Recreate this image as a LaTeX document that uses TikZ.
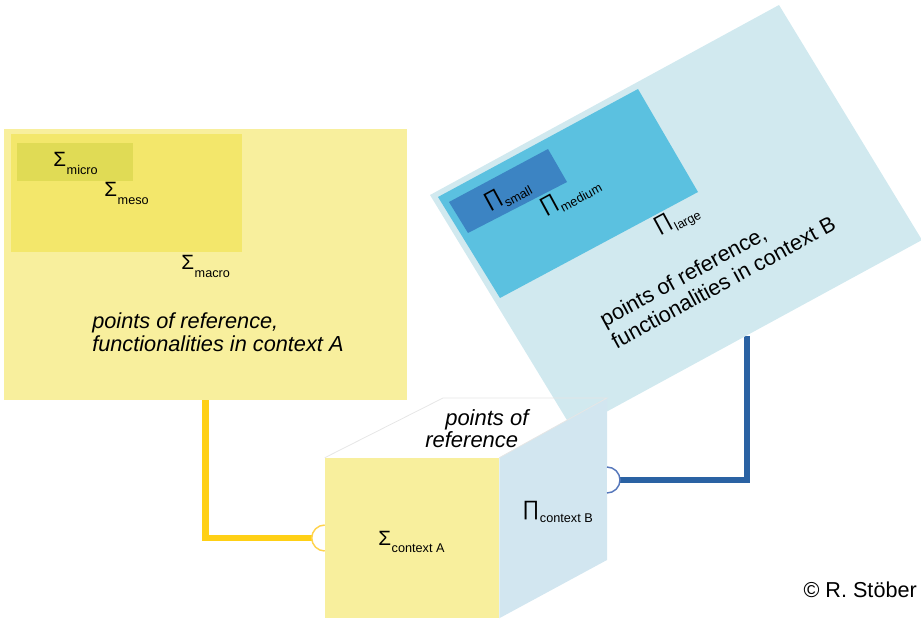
\documentclass[tikz,border=0pt]{standalone}
\usepackage{fontspec}
\setmainfont{Liberation Sans}
\usetikzlibrary{fit}
\definecolor{yelA}{HTML}{F8EF9D}
\definecolor{yelMeso}{HTML}{F3E76B}
\definecolor{yelMicro}{HTML}{E0DB55}
\definecolor{blueBig}{HTML}{D1E9EF}
\definecolor{blueMed}{HTML}{5BC1E0}
\definecolor{blueSmall}{HTML}{3C84C3}
\definecolor{cubeR}{HTML}{D2E6F0}
\definecolor{yconn}{HTML}{FFD015}
\definecolor{bconn}{HTML}{2A62A3}
\definecolor{ysock}{HTML}{FFD34D}
\definecolor{bsock}{HTML}{5577BB}
\definecolor{edgegray}{HTML}{E6E6E6}
\newcommand\gsub[3][6pt]{#2\kern0.5pt\raisebox{-#1}{\fontsize{9.5}{11}\selectfont #3}}
\begin{document}
\begin{tikzpicture}[x=0.75pt,y=-0.75pt,
  lbl/.style={inner sep=0, anchor=base west, font=\fontsize{15.5}{18}\selectfont},
  bigtext/.style={inner sep=0, anchor=base west},
  boxfit/.style={inner sep=0, draw=none},
  yline/.style={draw=yconn, line width=5.2pt},
  bline/.style={draw=bconn, line width=5.2pt},
  socket/.style={fill=white, line width=1.1pt}]
\useasboundingbox (0,0) rectangle (921,620);

% ---- connector end points
\coordinate (bstart) at (747,336);
\coordinate (sockA) at (312,538);
\coordinate (sockB) at (620,480);

% ---- context A
\node[boxfit, fill=yelA, fit={(4,129) (407,400)}] (boxA) {};
\node[boxfit, fill=yelMeso, fit={(11,134) (242,252)}] (meso) {};
\node[boxfit, fill=yelMicro, fit={(17,143) (133,181)}] (micro) {};
\node[lbl] (smicro) at (53,167) {\gsub{Σ}{micro}};
\node[lbl] (smeso) at (104,197) {\gsub{Σ}{meso}};
\node[lbl] (smacro) at (181,270) {\gsub{Σ}{macro}};
\node[bigtext] (txtA) at (92,329) {\fontsize{16.3}{16.8}\selectfont\itshape
  \begin{tabular}[t]{@{}l@{}}points of reference,\\functionalities in context A\end{tabular}};

\draw[yline] (boxA.south) |- (sockA);
\draw[bline] (bstart) |- (sockB);

% ---- context B (rotated)
\fill[blueBig] (430,195) -- (779,5) -- (922,240) -- (573,430) -- cycle;
\fill[blueMed] (438,197) -- (638,89) -- (698,192) -- (500,298) -- cycle;
\fill[blueSmall] (449,202) -- (548,149) -- (567,182) -- (468,233) -- cycle;
\begin{scope}[shift={(430,195)}, rotate=28.57, transform shape]
  \node[lbl] (psmall) at (44,40) {\gsub{∏}{small}};
  \node[lbl] (pmedium) at (91,71) {\gsub{∏}{medium}};
  \node[lbl] (plarge) at (182,142) {\gsub{∏}{large}};
  \node[bigtext] (txtB) at (90,200) {\fontsize{16.3}{18.4}\selectfont
    \begin{tabular}[t]{@{}l@{}}points of reference,\\functionalities in context B\end{tabular}};
\end{scope}

% ---- cube
\coordinate (B1) at (443,398);
\coordinate (B2) at (607,398);
\coordinate (B3) at (607,560);
\node[boxfit, fill=yelA, fit={(325,458) (499,618)}] (front) {};
\fill[cubeR] (front.north east) -- (B2) -- (B3) -- (front.south east) -- cycle;
\draw[edgegray, line width=0.6pt] (front.north west) -- (B1) -- (B2) -- (front.north east);
\node[bigtext] (txtTop) at (425,425) {\fontsize{16.5}{16.5}\selectfont\itshape
  \begin{tabular}[t]{@{}l@{}}\hspace*{15pt}points of\\reference\end{tabular}};
\node[lbl] (sctxA) at (378,545) {\gsub[5.5pt]{Σ}{context A}};
\node[lbl] (pctxB) at (522,515) {\gsub[5.5pt]{∏}{context B}};

% ---- sockets
\draw[socket, draw=ysock] (front.west) ++(0,-13) arc[start angle=90, end angle=270, radius=9.75pt];
\draw[socket, draw=bsock] (B2 |- sockB) ++(0,-13) arc[start angle=90, end angle=-90, radius=9.75pt];

% ---- copyright
\node[inner sep=0, anchor=base east, font=\fontsize{16.2}{18}\selectfont] (copy) at (917,597) {© R. Stöber};
\end{tikzpicture}
\end{document}
